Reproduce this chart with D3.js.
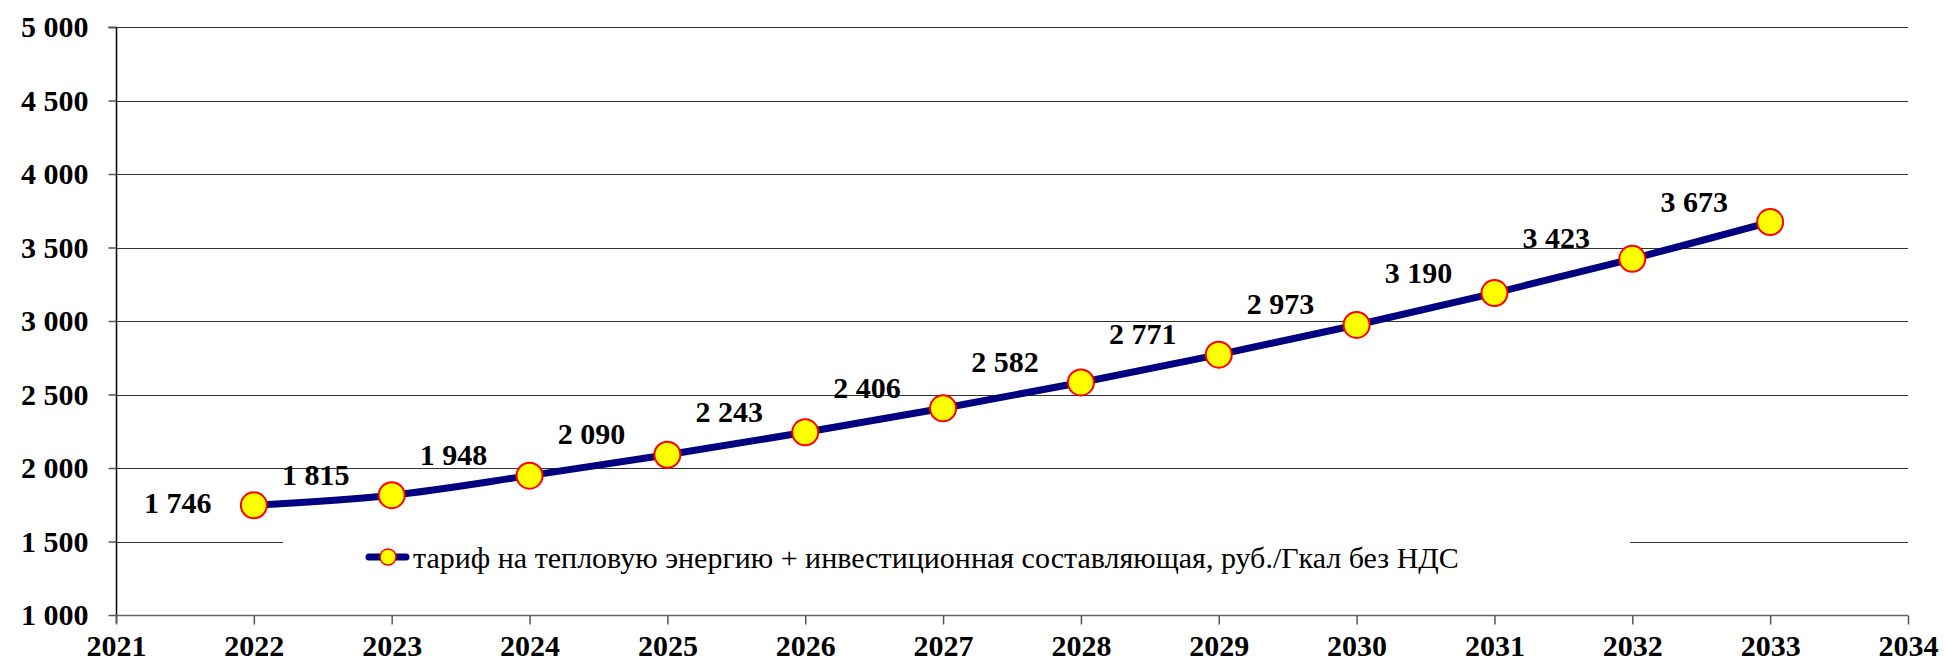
<!DOCTYPE html>
<html>
<head>
<meta charset="utf-8">
<script src="https://cdn.jsdelivr.net/npm/d3@7"></script>
<style>
body{margin:0;background:#fff;}
text{font-family:"Liberation Serif","Times New Roman",serif;}
</style>
</head>
<body>
<svg width="1946" height="668"></svg>
<script>
var years = [2022,2023,2024,2025,2026,2027,2028,2029,2030,2031,2032,2033];
var tariff = [1746,1815,1948,2090,2243,2406,2582,2771,2973,3190,3423,3673];
var yTicks = [1000,1500,2000,2500,3000,3500,4000,4500,5000];
var xTicks = [2021,2022,2023,2024,2025,2026,2027,2028,2029,2030,2031,2032,2033,2034];
var seriesName = "тариф на тепловую энергию + инвестиционная составляющая, руб./Гкал без НДС";

var svg = d3.select("svg");
var pLeft = 116, pRight = 1908, pTop = 27, pBottom = 615;

var fmt = d3.formatLocale({decimal:",", thousands:" ", grouping:[3], currency:["",""]}).format(",d");

var x = d3.scaleLinear().domain([2021,2034]).range([pLeft,pRight]);
var y = d3.scaleLinear().domain([1000,5000]).range([pBottom,pTop]);

// grid
svg.append("g").selectAll("line").data(yTicks.slice(1)).enter().append("line")
  .attr("x1",pLeft).attr("x2",pRight)
  .attr("y1",function(d){return Math.round(y(d))+0.5;}).attr("y2",function(d){return Math.round(y(d))+0.5;})
  .attr("stroke","#333").attr("stroke-width",1.2);

// y axis
var ya = svg.append("g").attr("transform","translate("+(pLeft+0.5)+",0)")
  .call(d3.axisLeft(y).tickValues(yTicks).tickSize(8).tickPadding(20).tickFormat(fmt));
ya.select(".domain").attr("stroke","#000").attr("stroke-width",1.5).attr("d","M-8,"+(pTop+0.5)+"H0V"+(pBottom+8));
ya.selectAll(".tick line").attr("stroke","#555").attr("stroke-width",1.5);
ya.selectAll("text").attr("font-size",30).attr("font-weight","bold").attr("fill","#000")
  .style("font-family","'Liberation Serif','Times New Roman',serif");

// x axis
var xa = svg.append("g").attr("transform","translate(0,"+(pBottom+0.5)+")")
  .call(d3.axisBottom(x).tickValues(xTicks).tickSize(9).tickPadding(10).tickFormat(d3.format("d")));
xa.select(".domain").attr("stroke","#666").attr("stroke-width",1.5).attr("d","M"+pLeft+",0H"+pRight);
xa.selectAll(".tick line").attr("stroke","#555").attr("stroke-width",1.5);
xa.selectAll("text").attr("font-size",30).attr("font-weight","bold").attr("fill","#000")
  .style("font-family","'Liberation Serif','Times New Roman',serif");

// legend background
var lg = svg.append("g");
lg.append("rect").attr("x",283).attr("y",527).attr("width",1347).attr("height",60).attr("fill","#fff");

// series line
var line = d3.line().x(function(d,i){return x(years[i]);}).y(function(d){return y(d);}).curve(d3.curveCatmullRom.alpha(0.5));
svg.append("path").datum(tariff).attr("d",line).attr("fill","none")
  .attr("stroke","#000080").attr("stroke-width",7).attr("stroke-linecap","round");

svg.append("g").selectAll("circle").data(tariff).enter().append("circle")
  .attr("cx",function(d,i){return x(years[i]);}).attr("cy",function(d){return y(d);})
  .attr("r",13).attr("fill","#ffff00").attr("stroke","#ff0000").attr("stroke-width",2);

// data labels: first one sits to the left, the rest above-left
svg.append("g").selectAll("text").data(tariff).enter().append("text")
  .attr("x",function(d,i){return x(years[i]) - 76;})
  .attr("y",function(d,i){return y(d) - (i===0 ? 3 : 21);})
  .attr("dy","0.35em").attr("text-anchor","middle")
  .attr("font-size",30).attr("font-weight","bold").attr("fill","#000")
  .text(function(d){return fmt(d);});

// legend
var ly = 557;
lg.append("line").attr("x1",369).attr("x2",406).attr("y1",ly).attr("y2",ly)
  .attr("stroke","#000080").attr("stroke-width",7).attr("stroke-linecap","round");
lg.append("circle").attr("cx",388).attr("cy",ly).attr("r",8)
  .attr("fill","#ffff00").attr("stroke","#ff0000").attr("stroke-width",1.5);
lg.append("text").attr("x",413).attr("y",ly).attr("dy","0.35em")
  .attr("font-size",30).attr("fill","#000").text(seriesName);
</script>
</body>
</html>
